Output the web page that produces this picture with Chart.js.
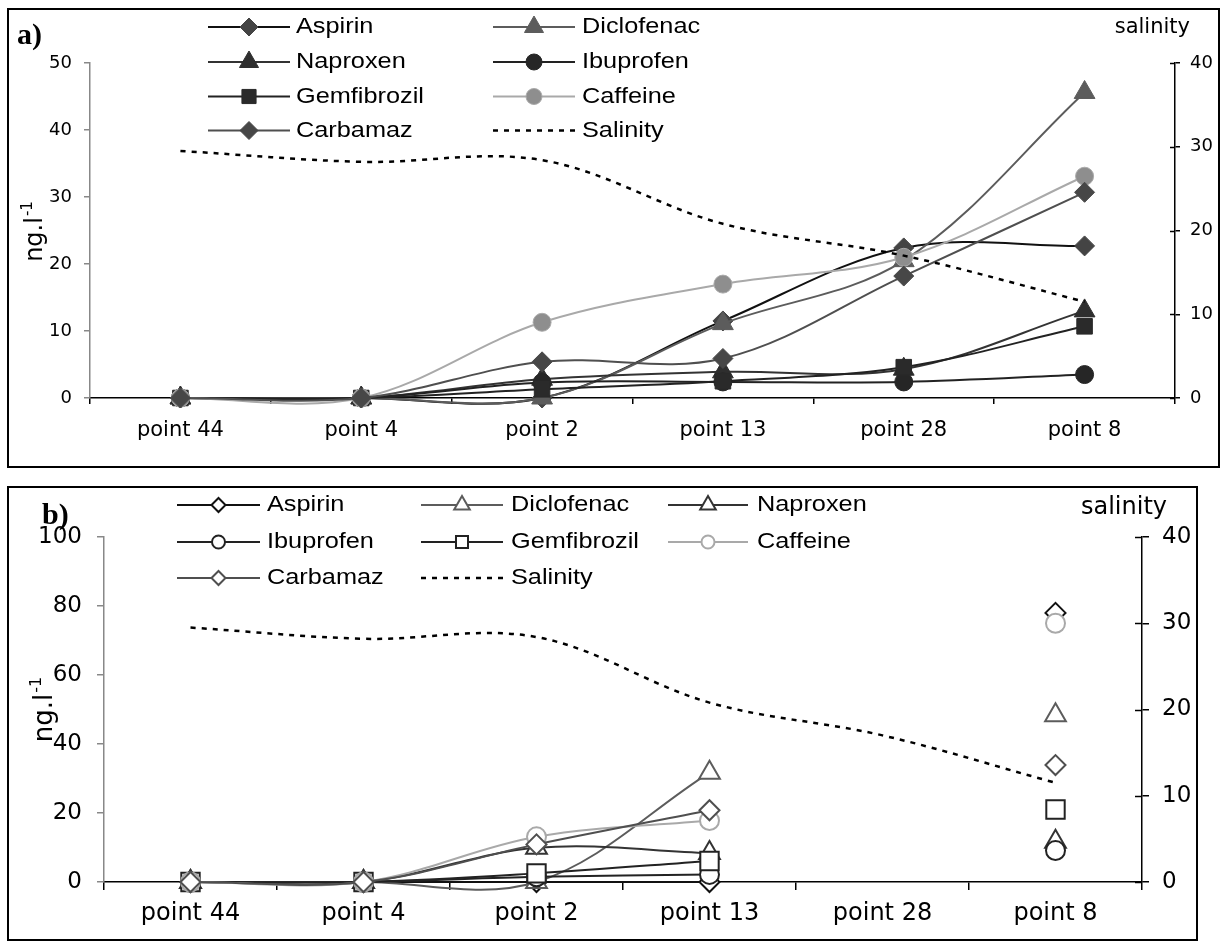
<!DOCTYPE html>
<html>
<head>
<meta charset="utf-8">
<script src="https://cdn.jsdelivr.net/npm/chart.js@4.4.1/dist/chart.umd.min.js"></script>
<style>
  html, body { margin: 0; padding: 0; background: #fff; }
  body { width: 1221px; height: 944px; position: relative; overflow: hidden; }
  .frame { position: absolute; border: 2px solid #000; box-sizing: border-box; }
  canvas { position: absolute; left: 0; }
</style>
</head>
<body>
<div class="frame" style="left:7px;top:8px;width:1213px;height:460px"></div>
<div class="frame" style="left:7px;top:486px;width:1191px;height:455px"></div>
<canvas id="chartA" width="1221" height="476" style="top:0"></canvas>
<canvas id="chartB" width="1221" height="468" style="top:476px"></canvas>
<script>
// sampling stations and salinity (right axis, same for both panels)
const categories = ['point 44', 'point 4', 'point 2', 'point 13', 'point 28', 'point 8'];
const salinity = [29.5, 28.2, 28.4, 20.8, 17.0, 11.5];
const seriesNames = ['Aspirin', 'Diclofenac', 'Naproxen', 'Ibuprofen', 'Gemfibrozil', 'Caffeine', 'Carbamaz'];

// panel a) concentrations, ng/l
const aspirinA     = [0, 0, 0,    11.5, 22.4, 22.7];
const diclofenacA  = [0, 0, 0,    11.1, 20.5, 45.6];
const naproxenA    = [0, 0, 2.8,  3.9,  4.3,  13.0];
const ibuprofenA   = [0, 0, 2.3,  2.4,  2.4,  3.5];
const gemfibrozilA = [0, 0, 1.3,  2.5,  4.6,  10.7];
const caffeineA    = [0, 0, 11.3, 17.0, 21.0, 33.1];
const carbamazA    = [0, 0, 5.4,  5.9,  18.2, 30.7];

// panel b) concentrations, ng/l (no sample at point 28)
const aspirinB     = [0, 0, 0,    0,    null, 78.0];
const diclofenacB  = [0, 0, 0,    31.7, null, 48.3];
const naproxenB    = [0, 0, 9.9,  8.4,  null, 11.7];
const ibuprofenB   = [0, 0, 1.5,  2.2,  null, 9.1];
const gemfibrozilB = [0, 0, 2.5,  6.1,  null, 21.0];
const caffeineB    = [0, 0, 13.1, 17.8, null, 75.0];
const carbamazB    = [0, 0, 10.9, 20.8, null, 33.9];

// styles per series
const lineColors   = ['#111111', '#5c5c5c', '#333333', '#222222', '#222222', '#a9a9a9', '#4f4f4f'];
const markerFill   = ['#444444', '#5c5c5c', '#2e2e2e', '#262626', '#2a2a2a', '#8e8e8e', '#474747'];
const markerShapes = ['rectRot', 'triangle', 'triangle', 'circle', 'rect', 'circle', 'rectRot'];

function buildDatasets(values, filled, sizes) {
    const sets = values.map((data, i) => ({
        label: seriesNames[i],
        data: data,
        yAxisID: 'y',
        borderColor: lineColors[i],
        borderWidth: 2,
        pointStyle: markerShapes[i],
        pointRadius: sizes[i],
        pointHoverRadius: sizes[i],
        pointBackgroundColor: filled ? markerFill[i] : '#ffffff',
        pointBorderColor: filled ? (i === 5 ? '#aaaaaa' : markerFill[i]) : lineColors[i],
        pointBorderWidth: filled ? 1 : 2,
        order: values.length - i + 1,
        clip: false,
        spanGaps: false
    }));
    sets.push({
        label: 'Salinity',
        data: salinity,
        yAxisID: 'y1',
        borderColor: '#000000',
        borderWidth: 2.5,
        borderDash: [5, 6],
        pointRadius: 0,
        order: 0,
        clip: false
    });
    return sets;
}

// legend, axis titles, panel letter, inner half of the right-axis ticks
const panelDeco = {
    id: 'panelDeco',
    afterDraw(chart, args, p) {
        const ctx = chart.ctx;
        const y1 = chart.scales.y1;

        ctx.save();
        ctx.strokeStyle = '#000';
        ctx.lineWidth = 1.5;
        y1.ticks.forEach(t => {
            const py = Math.round(y1.getPixelForValue(t.value)) + 0.5;
            ctx.beginPath();
            ctx.moveTo(y1.left - p.y1Tick, py);
            ctx.lineTo(y1.left, py);
            ctx.stroke();
        });
        ctx.restore();

        // legend in Excel style: line segment with marker, then label
        chart.data.datasets.forEach((ds, i) => {
            const col = p.legendCols[i % p.legendCols.length];
            const rowY = p.legendRows[Math.floor(i / p.legendCols.length)];
            ctx.save();
            ctx.strokeStyle = ds.borderColor;
            ctx.lineWidth = ds.borderWidth;
            ctx.setLineDash(ds.borderDash || []);
            ctx.beginPath();
            ctx.moveTo(col[0], rowY);
            ctx.lineTo(col[1], rowY);
            ctx.stroke();
            ctx.setLineDash([]);
            if (ds.pointRadius > 0) {
                ctx.fillStyle = ds.pointBackgroundColor;
                ctx.strokeStyle = ds.pointBorderColor;
                ctx.lineWidth = ds.pointBorderWidth;
                Chart.helpers.drawPoint(ctx, {
                    pointStyle: ds.pointStyle,
                    radius: p.legendMarkers[i],
                    rotation: 0,
                    borderWidth: ds.pointBorderWidth
                }, (col[0] + col[1]) / 2, rowY);
            }
            ctx.fillStyle = '#000';
            ctx.font = p.legendFont + 'px "Liberation Sans", Arial, sans-serif';
            ctx.textBaseline = 'middle';
            ctx.textAlign = 'left';
            ctx.translate(col[2], rowY);
            ctx.scale(1.15, 1);
            ctx.fillText(ds.label, 0, 0);
            ctx.restore();
        });

        ctx.save();
        ctx.fillStyle = '#000';
        ctx.font = p.titleFont + 'px "DejaVu Sans", sans-serif';
        ctx.textAlign = 'right';
        ctx.textBaseline = 'middle';
        ctx.fillText('salinity', p.salX, p.salY);

        // rotated y title with superscript
        ctx.translate(p.yTitleX, p.yTitleY);
        ctx.rotate(-Math.PI / 2);
        ctx.textAlign = 'left';
        ctx.textBaseline = 'alphabetic';
        const mainFont = p.yTitleFont + 'px "DejaVu Sans", sans-serif';
        const supFont = Math.round(p.yTitleFont * 0.62) + 'px "DejaVu Sans", sans-serif';
        ctx.font = mainFont;
        const w1 = ctx.measureText('ng.l').width;
        ctx.font = supFont;
        const w2 = ctx.measureText('-1').width;
        const x0 = -(w1 + w2) / 2;
        const base = p.yTitleFont * 0.36;
        ctx.font = mainFont;
        ctx.fillText('ng.l', x0, base);
        ctx.font = supFont;
        ctx.fillText('-1', x0 + w1 + 1, base - p.yTitleFont * 0.42);
        ctx.restore();

        ctx.save();
        ctx.fillStyle = '#000';
        ctx.font = 'bold 30px "Liberation Serif", "Times New Roman", serif';
        ctx.textBaseline = 'alphabetic';
        ctx.fillText(p.letter, p.letterX, p.letterY);
        ctx.restore();
    }
};

function panelOptions(p) {
    const tickFont = { family: 'DejaVu Sans', size: p.yFont };
    return {
        responsive: false,
        animation: false,
        events: [],
        layout: { padding: { top: p.top, bottom: p.bottomPad, left: 0, right: 0 } },
        elements: { line: { tension: 0.35, capBezierPoints: false } },
        plugins: {
            legend: { display: false },
            tooltip: { enabled: false },
            panelDeco: p
        },
        scales: {
            x: {
                type: 'category',
                offset: true,
                grid: { offset: true, drawOnChartArea: false, drawTicks: true, tickLength: p.xTick, color: '#000', lineWidth: 1.5 },
                border: { display: true, color: '#000', width: 1.5 },
                ticks: { font: { family: 'DejaVu Sans', size: p.xFont }, color: '#000', padding: p.xPad, maxRotation: 0, autoSkip: false },
                afterFit: s => { s.height = p.xHeight; }
            },
            y: {
                position: 'left',
                min: 0,
                max: p.yMax,
                ticks: { stepSize: p.yStep, font: tickFont, color: '#000', padding: p.yPad },
                grid: { drawOnChartArea: false, tickLength: p.yTick, color: '#888', lineWidth: 1.5 },
                border: { display: true, color: '#888', width: 1.5 },
                afterFit: s => { s.width = p.left; }
            },
            y1: {
                position: 'right',
                min: 0,
                max: 40,
                ticks: { stepSize: 10, font: tickFont, color: '#000', padding: p.y1Pad },
                grid: { drawOnChartArea: false, tickLength: p.y1Tick, color: '#000', lineWidth: 1.5 },
                border: { display: true, color: '#000', width: 1.5 },
                afterFit: s => { s.width = 1221 - p.right; }
            }
        }
    };
}

new Chart(document.getElementById('chartA'), {
    type: 'line',
    data: {
        labels: categories,
        datasets: buildDatasets(
            [aspirinA, diclofenacA, naproxenA, ibuprofenA, gemfibrozilA, caffeineA, carbamazA],
            true, [10, 12, 12, 9, 11, 9, 10])
    },
    options: panelOptions({
        top: 63, bottomPad: 18, xHeight: 60, left: 90, right: 1175,
        xFont: 21, xTick: 6, xPad: 14,
        yFont: 18, yMax: 50, yStep: 10, yTick: 6, yPad: 12, y1Tick: 5, y1Pad: 10,
        legendCols: [[208, 290, 296], [493, 575, 582]],
        legendRows: [27, 62, 96.5, 130.5],
        legendMarkers: [9, 11, 11, 8, 10, 8, 9],
        legendFont: 22,
        titleFont: 21, salX: 1190, salY: 28,
        yTitleFont: 24, yTitleX: 33, yTitleY: 232,
        letter: 'a)', letterX: 17, letterY: 44
    }),
    plugins: [panelDeco]
});

new Chart(document.getElementById('chartB'), {
    type: 'line',
    data: {
        labels: categories,
        datasets: buildDatasets(
            [aspirinB, diclofenacB, naproxenB, ibuprofenB, gemfibrozilB, caffeineB, carbamazB],
            false, [10, 12, 12, 9.5, 13, 9.5, 10])
    },
    options: panelOptions({
        top: 61, bottomPad: 12, xHeight: 50, left: 104, right: 1142,
        xFont: 24, xTick: 8, xPad: 9,
        yFont: 23, yMax: 100, yStep: 20, yTick: 7, yPad: 15, y1Tick: 7, y1Pad: 13,
        legendCols: [[177, 260, 267], [421, 503, 511], [668, 748, 757]],
        legendRows: [29, 66, 102],
        legendMarkers: [7, 9, 9, 6.5, 8.5, 6.5, 7],
        legendFont: 22,
        titleFont: 24, salX: 1167, salY: 32,
        yTitleFont: 26, yTitleX: 43, yTitleY: 234,
        letter: 'b)', letterX: 42, letterY: 48
    }),
    plugins: [panelDeco]
});
</script>
</body>
</html>
